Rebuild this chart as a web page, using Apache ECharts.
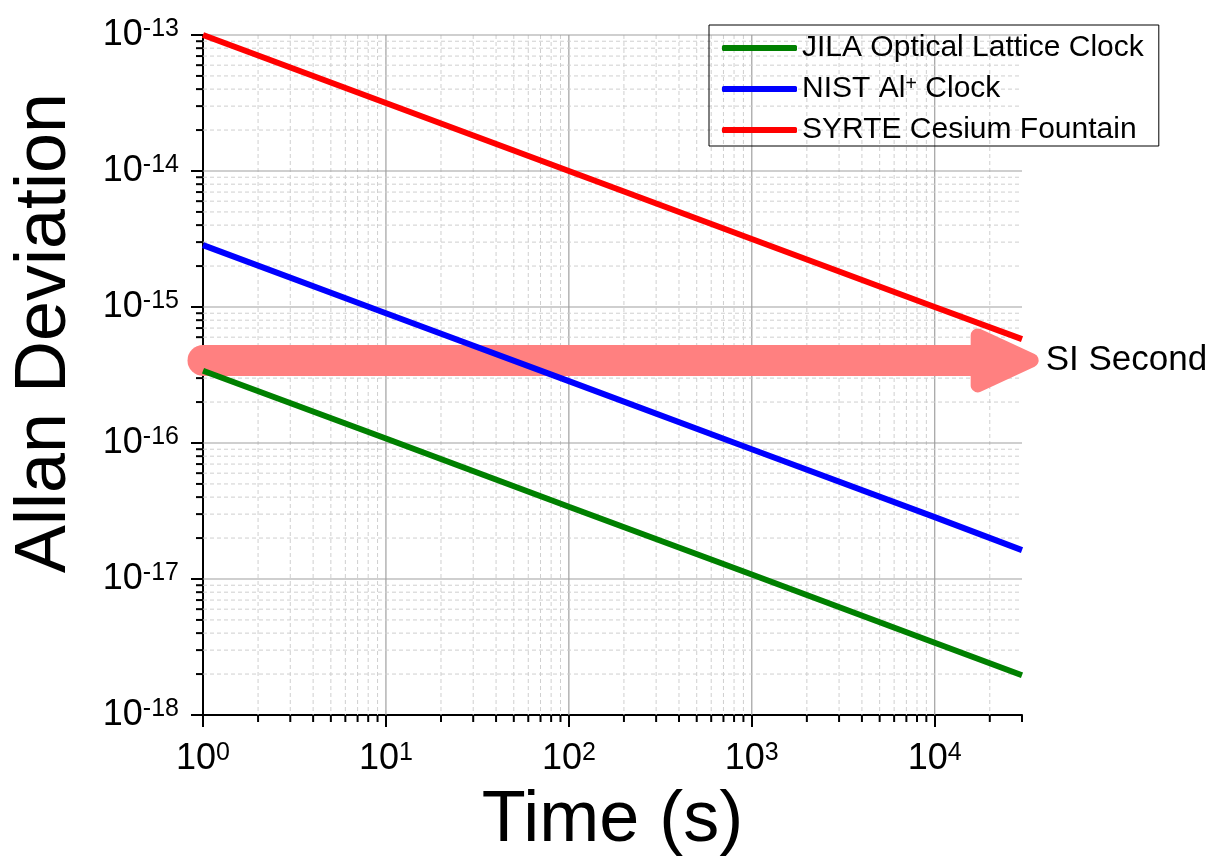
<!DOCTYPE html>
<html>
<head>
<meta charset="utf-8">
<script src="https://cdn.jsdelivr.net/npm/echarts@6/dist/echarts.min.js"></script>
<style>
html,body{margin:0;padding:0;background:#fff;}
#chart{width:1208px;height:863px;}
</style>
</head>
<body>
<div id="chart"></div>
<script>
// ---- data ----
const timeValues = [1, 10, 100, 1000, 10000, 30000];
const jilaValues = [3.4e-16, 1.08e-16, 3.4e-17, 1.08e-17, 3.4e-18, 1.96e-18];
const nistValues = [2.85e-15, 9.0e-16, 2.85e-16, 9.0e-17, 2.85e-17, 1.63e-17];
const syrteValues = [1.0e-13, 3.16e-14, 1.0e-14, 3.16e-15, 1.0e-15, 5.8e-16];
const seriesNames = ['JILA Optical Lattice Clock', 'NIST Al+ Clock', 'SYRTE Cesium Fountain'];
const seriesColors = ['#008000', '#0000ff', '#ff0000'];
const siSecondLevel = 4.05e-16;
const siSecondStart = 1;
const siSecondTip = 37000;
const siLabel = 'SI Second';
const xMajorTicks = [1, 10, 100, 1000, 10000];
const yMajorTicks = [1e-18, 1e-17, 1e-16, 1e-15, 1e-14, 1e-13];
const xMin = 1, xMax = 30000, yMin = 1e-18, yMax = 1e-13;

// minor tick positions (2..9 within each decade)
const xMinorTicks = [];
xMajorTicks.forEach(d => { for (let k = 2; k <= 9; k++) { const v = k * d; if (v <= xMax * 1.0001) xMinorTicks.push(v); } });
const yMinorTicks = [];
yMajorTicks.slice(0, -1).forEach(d => { for (let k = 2; k <= 9; k++) yMinorTicks.push(k * d); });

const FONT = 'Liberation Sans, Arial, sans-serif';
function powLabel(v) {
  const e = Math.round(Math.log10(v));
  return '{b|10}{s|' + e + '}';
}
const labelRich = {
  b: { fontSize: 36, fontFamily: FONT, color: '#000', lineHeight: 36, verticalAlign: 'bottom' },
  s: { fontSize: 25, fontFamily: FONT, color: '#000', lineHeight: 25, verticalAlign: 'top' }
};

const chart = echarts.init(document.getElementById('chart'), null, { renderer: 'canvas' });

function xGridItem(params, api) {
  const v = api.value(0);
  const kind = api.value(2);
  const cs = params.coordSys;
  const p = api.coord([v, yMin]);
  const children = [];
  if (kind === 0) {
    if (v < xMax * 0.999) children.push({ type: 'line', shape: { x1: p[0], y1: cs.y, x2: p[0], y2: cs.y + cs.height }, style: { stroke: '#cfcfcf', lineWidth: 1, lineDash: [4, 3] } });
    children.push({ type: 'line', shape: { x1: p[0], y1: cs.y + cs.height, x2: p[0], y2: cs.y + cs.height + 7 }, style: { stroke: '#000', lineWidth: 2 } });
  } else if (v > xMin) {
    children.push({ type: 'line', shape: { x1: p[0], y1: cs.y, x2: p[0], y2: cs.y + cs.height }, style: { stroke: '#a0a0a0', lineWidth: 1.2 } });
  }
  return { type: 'group', children: children };
}
function yGridItem(params, api) {
  const v = api.value(1);
  const kind = api.value(2);
  const cs = params.coordSys;
  const p = api.coord([xMin, v]);
  const children = [];
  if (kind === 0) {
    children.push({ type: 'line', shape: { x1: cs.x, y1: p[1], x2: cs.x + cs.width, y2: p[1] }, style: { stroke: '#cfcfcf', lineWidth: 1, lineDash: [4, 3] } });
    children.push({ type: 'line', shape: { x1: cs.x - 7, y1: p[1], x2: cs.x, y2: p[1] }, style: { stroke: '#000', lineWidth: 2 } });
  } else if (v > yMin) {
    children.push({ type: 'line', shape: { x1: cs.x, y1: p[1], x2: cs.x + cs.width, y2: p[1] }, style: { stroke: '#a0a0a0', lineWidth: 1.2 } });
  }
  return { type: 'group', children: children };
}
function arrowItem(params, api) {
  const p0 = api.coord([api.value(0), api.value(1)]);
  const p1 = api.coord([api.value(2), api.value(1)]);
  const tipX = p1[0] - 7;
  const backX = p1[0] - 61;
  const y = p0[1];
  const col = '#ff8080';
  return {
    type: 'group',
    children: [
      { type: 'line', shape: { x1: p0[0], y1: y, x2: backX + 10, y2: y }, style: { stroke: col, lineWidth: 31, lineCap: 'round' } },
      { type: 'polygon', shape: { points: [[backX, y - 25], [tipX, y], [backX, y + 25]] }, style: { fill: col, stroke: col, lineWidth: 14, lineJoin: 'round' } },
      { type: 'text', x: p1[0] + 7, y: y, style: { text: siLabel, fill: '#000', fontSize: 35, fontFamily: FONT, verticalAlign: 'middle', align: 'left' } }
    ]
  };
}

const lineSeries = [jilaValues, nistValues, syrteValues].map((vals, i) => ({
  name: seriesNames[i],
  type: 'line',
  symbol: 'none',
  z: 5,
  data: timeValues.map((t, j) => [t, vals[j]]),
  lineStyle: { color: seriesColors[i], width: 6 },
  itemStyle: { color: seriesColors[i] }
}));

const option = {
  animation: false,
  backgroundColor: '#fff',
  grid: { left: 203, right: 186, top: 35, bottom: 148, containLabel: false, outerBoundsMode: 'none' },
  legend: {
    data: seriesNames,
    orient: 'vertical',
    left: 709, top: 25,
    padding: [8, 15, 1, 13],
    itemGap: 11,
    itemWidth: 75, itemHeight: 6,
    icon: 'roundRect',
    borderColor: '#000', borderWidth: 1,
    formatter: function (name) { return name === 'NIST Al+ Clock' ? 'NIST Al{sup|+} Clock' : name; },
    textStyle: {
      fontSize: 30, fontFamily: FONT, color: '#000',
      rich: { sup: { fontSize: 20, fontFamily: FONT, color: '#000', verticalAlign: 'top', lineHeight: 20, padding: [0, 0, 8, 0] } }
    }
  },
  xAxis: {
    type: 'log', logBase: 10, min: xMin, max: xMax,
    name: 'Time (s)', nameLocation: 'middle', nameGap: 70,
    nameTextStyle: { fontSize: 72, fontFamily: FONT, color: '#000' },
    axisLine: { show: true, lineStyle: { color: '#000', width: 2 } },
    axisTick: { show: true, length: 12, inside: false, lineStyle: { color: '#000', width: 2 }, customValues: xMajorTicks },
    axisLabel: { margin: 26, formatter: powLabel, rich: labelRich, customValues: xMajorTicks },
    splitLine: { show: false },
    minorTick: { show: false }, minorSplitLine: { show: false }
  },
  yAxis: {
    type: 'log', logBase: 10, min: yMin, max: yMax,
    name: 'Allan Deviation', nameLocation: 'middle', nameGap: 122,
    nameTextStyle: { fontSize: 72, fontFamily: FONT, color: '#000', padding: [0, 0, 0, 84] },
    axisLine: { show: true, lineStyle: { color: '#000', width: 2 } },
    axisTick: { show: true, length: 12, inside: false, lineStyle: { color: '#000', width: 2 }, customValues: yMajorTicks },
    axisLabel: { margin: 24, formatter: powLabel, rich: labelRich, customValues: yMajorTicks },
    splitLine: { show: false },
    minorTick: { show: false }, minorSplitLine: { show: false }
  },
  series: [
    { name: 'xgrid', type: 'custom', silent: true, z: 1, renderItem: xGridItem,
      data: xMinorTicks.map(v => [v, yMin, 0]).concat(xMajorTicks.map(v => [v, yMin, 1])),
      encode: { x: 0, y: 1 } },
    { name: 'ygrid', type: 'custom', silent: true, z: 1, renderItem: yGridItem,
      data: yMinorTicks.map(v => [xMin, v, 0]).concat(yMajorTicks.map(v => [xMin, v, 1])),
      encode: { x: 0, y: 1 } },
    { name: 'SI', type: 'custom', silent: true, z: 3, clip: false, renderItem: arrowItem,
      data: [[siSecondStart, siSecondLevel, siSecondTip]], encode: { x: 0, y: 1 } }
  ].concat(lineSeries)
};
chart.setOption(option);
</script>
</body>
</html>
